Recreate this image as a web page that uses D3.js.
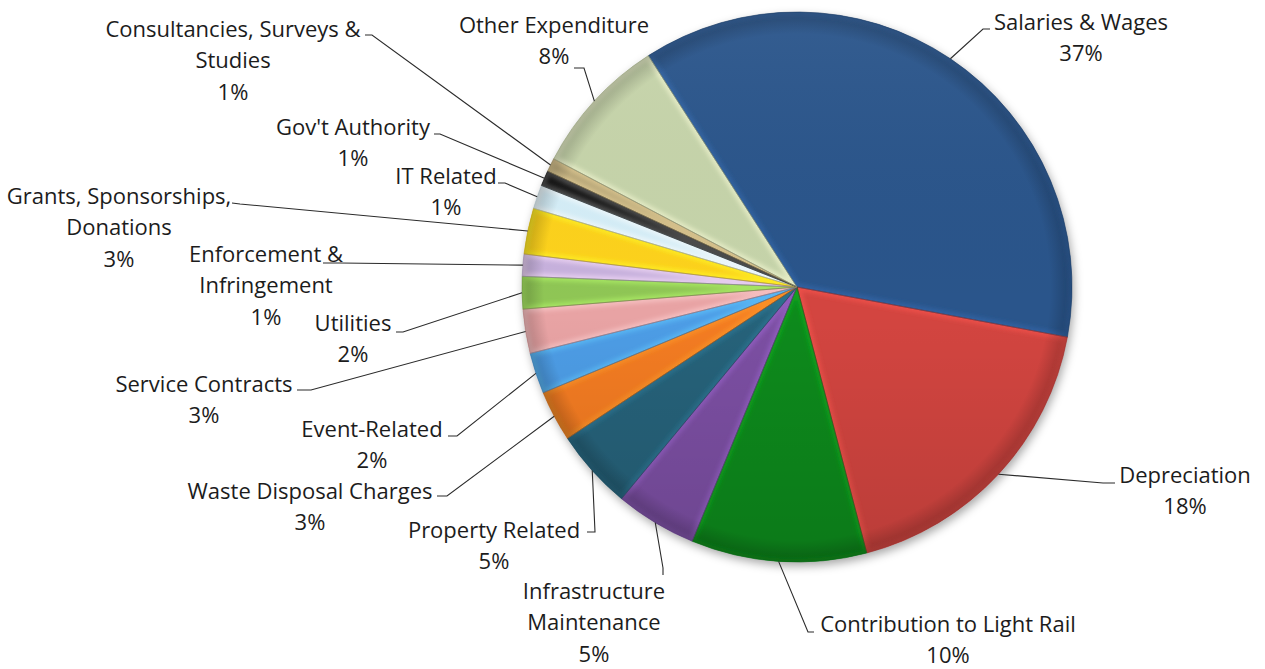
<!DOCTYPE html>
<html>
<head>
<meta charset="utf-8">
<script src="https://cdn.jsdelivr.net/npm/d3@7"></script>
<style>
  html, body { margin: 0; padding: 0; background: #ffffff; }
  svg { display: block; }
</style>
</head>
<body>
<svg id="chart" width="1265" height="669"></svg>
<script>
// Expenditure categories, clockwise from the top-left edge of the first slice
const categories = [
  "Salaries & Wages",
  "Depreciation",
  "Contribution to Light Rail",
  "Infrastructure\nMaintenance",
  "Property Related",
  "Waste Disposal Charges",
  "Event-Related",
  "Service Contracts",
  "Utilities",
  "Enforcement &\nInfringement",
  "Grants, Sponsorships,\nDonations",
  "IT Related",
  "Gov't Authority",
  "Consultancies, Surveys &\nStudies",
  "Other Expenditure"
];

// Share of total expenditure (%)
const values = [37.0, 18.0, 10.3, 4.8, 4.7, 3.0, 2.4, 2.6, 1.9, 1.3, 2.7, 1.4, 0.9, 0.8, 8.2];

const colors = [
  "#29548b", "#d3443f", "#0a8a1a", "#7b50a3", "#25627a",
  "#f47c20", "#4d9de6", "#e8a3a4", "#8fc654", "#c7b1dd",
  "#fdd21c", "#d5eef8", "#151515", "#b8a778", "#c6d4aa"
];

// Label placement: centre x and first baseline of each label block,
// plus the elbow and end of its leader line
const labelLayout = [
  { x: 1081, y: 30,  elbow: [983, 29],  end: [990, 29] },
  { x: 1185, y: 483, elbow: [1103, 483], end: [1115, 483] },
  { x: 948,  y: 632, elbow: [808, 632], end: [814, 632] },
  { x: 594,  y: 599, elbow: [663, 568], end: [663, 575] },
  { x: 494,  y: 538, elbow: [595, 532], end: [587, 532] },
  { x: 310,  y: 499, elbow: [447, 496], end: [437, 496] },
  { x: 372,  y: 437, elbow: [457, 436], end: [448, 436] },
  { x: 204,  y: 392, elbow: [311, 390], end: [297, 390] },
  { x: 353,  y: 331, elbow: [403, 332], end: [396, 332] },
  { x: 266,  y: 262, elbow: [340, 263], end: [323, 263] },
  { x: 119,  y: 204, elbow: [240, 204], end: [232, 203] },
  { x: 446,  y: 184, elbow: [505, 183], end: [498, 183] },
  { x: 353,  y: 135, elbow: [440, 134], end: [434, 134] },
  { x: 233,  y: 37,  elbow: [372, 35],  end: [365, 35] },
  { x: 554,  y: 33,  elbow: [584, 68],  end: [574, 68] }
];

const W = 1265, H = 669;
const cx = 797, cy = 287, R = 275;
const startAngle = -32.7 * Math.PI / 180;
const lineHeight = 31.3;

const data = categories.map((c, i) => ({ name: c, v: values[i], color: colors[i], layout: labelLayout[i] }));
const total = d3.sum(values);

const pie = d3.pie()
  .sort(null)
  .value(d => d.v)
  .startAngle(startAngle)
  .endAngle(startAngle + 2 * Math.PI);

const arc = d3.arc().innerRadius(0).outerRadius(R);
const arcs = pie(data);

const svg = d3.select("#chart");
const defs = svg.append("defs");

// soft shadow under the whole pie
const shadow = defs.append("filter").attr("id", "pieShadow")
  .attr("x", "-20%").attr("y", "-20%").attr("width", "140%").attr("height", "140%");
shadow.append("feDropShadow")
  .attr("dx", 2).attr("dy", 4).attr("stdDeviation", 5)
  .attr("flood-color", "#000").attr("flood-opacity", 0.35);

const soft = defs.append("filter").attr("id", "soften")
  .attr("x", "-10%").attr("y", "-10%").attr("width", "120%").attr("height", "120%");
soft.append("feGaussianBlur").attr("stdDeviation", 2);

// gentle top-to-bottom light falloff across the pie
const shade = defs.append("linearGradient").attr("id", "shade")
  .attr("x1", 0).attr("y1", 0).attr("x2", 0).attr("y2", 1);
shade.append("stop").attr("offset", "0%").attr("stop-color", "#fff").attr("stop-opacity", 0.05);
shade.append("stop").attr("offset", "55%").attr("stop-color", "#000").attr("stop-opacity", 0);
shade.append("stop").attr("offset", "100%").attr("stop-color", "#000").attr("stop-opacity", 0.12);

// darkened rim
const rim = defs.append("radialGradient").attr("id", "rim")
  .attr("cx", "50%").attr("cy", "50%").attr("r", "50%");
rim.append("stop").attr("offset", "92%").attr("stop-color", "#000").attr("stop-opacity", 0);
rim.append("stop").attr("offset", "100%").attr("stop-color", "#000").attr("stop-opacity", 0.22);

arcs.forEach((a, i) => {
  defs.append("clipPath").attr("id", "clip" + i)
    .append("path").attr("d", arc(a)).attr("transform", `translate(${cx},${cy})`);
});

const pieG = svg.append("g").attr("filter", "url(#pieShadow)");
const sliceG = pieG.append("g").attr("transform", `translate(${cx},${cy})`);

sliceG.selectAll("path.slice")
  .data(arcs)
  .join("path")
  .attr("class", "slice")
  .attr("d", arc)
  .attr("fill", d => d.data.color);

// bevel highlight along each slice's edges
const bevelG = svg.append("g");
arcs.forEach((a, i) => {
  const base = d3.color(a.data.color);
  const light = a.data.color === "#151515" ? d3.color("#777") : base.brighter(0.7);
  bevelG.append("g").attr("clip-path", `url(#clip${i})`)
    .append("path")
    .attr("transform", `translate(${cx},${cy})`)
    .attr("d", arc(a))
    .attr("fill", "none")
    .attr("stroke", light)
    .attr("stroke-opacity", 0.55)
    .attr("stroke-width", 7)
    .attr("filter", "url(#soften)");
});

const overlay = svg.append("g").attr("transform", `translate(${cx},${cy})`);
overlay.append("circle").attr("r", R).attr("fill", "url(#shade)");
overlay.append("circle").attr("r", R).attr("fill", "url(#rim)");
overlay.selectAll("path.edge")
  .data(arcs)
  .join("path")
  .attr("class", "edge")
  .attr("d", arc)
  .attr("fill", "none")
  .attr("stroke", d => d3.color(d.data.color).darker(0.9))
  .attr("stroke-opacity", 0.7)
  .attr("stroke-width", 0.8);

// leader lines: from the slice edge at its middle angle to the label
const leaderG = svg.append("g");
arcs.forEach(a => {
  const mid = (a.startAngle + a.endAngle) / 2;
  const p0 = [cx + R * Math.sin(mid), cy - R * Math.cos(mid)];
  const L = a.data.layout;
  leaderG.append("path")
    .attr("d", d3.line()([p0, L.elbow, L.end]))
    .attr("fill", "none")
    .attr("stroke", "#2b2b2b")
    .attr("stroke-width", 1.1);
});

// labels
const labelG = svg.append("g")
  .attr("font-family", "'Open Sans', 'Noto Sans', sans-serif")
  .attr("font-size", 22)
  .attr("fill", "#1c1c1c")
  .attr("text-anchor", "middle");

arcs.forEach(a => {
  const L = a.data.layout;
  const lines = a.data.name.split("\n").concat([Math.round(a.data.v / total * 100) + "%"]);
  const t = labelG.append("text").attr("x", L.x).attr("y", L.y);
  lines.forEach((ln, j) => {
    t.append("tspan").attr("x", L.x).attr("y", L.y + j * lineHeight).text(ln);
  });
});
</script>
</body>
</html>
